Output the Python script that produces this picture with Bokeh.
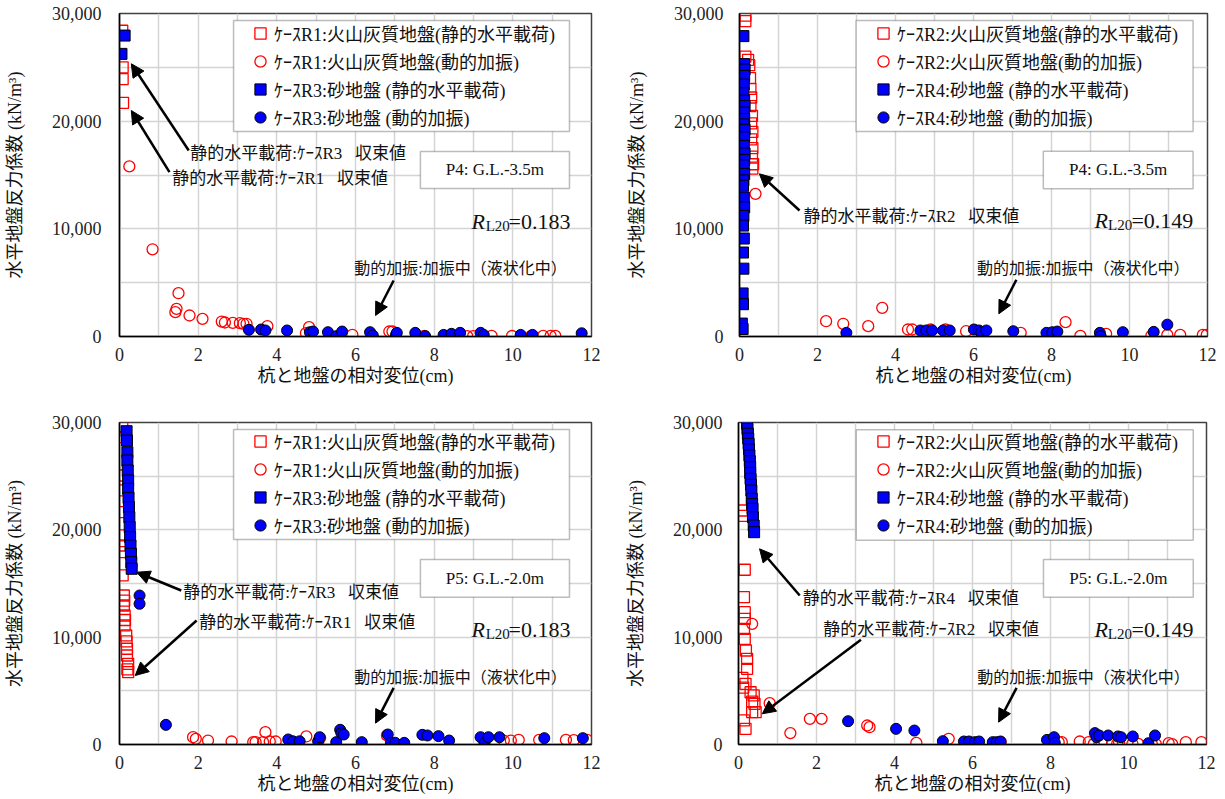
from bokeh.plotting import figure
from bokeh.models import (Range1d, SingleIntervalTicker, NumeralTickFormatter, Legend, LegendItem,
                          BoxAnnotation, Label, Arrow, NormalHead)
from bokeh.layouts import column, row
from bokeh.embed import file_html
from bokeh.resources import INLINE

# ---------------- data ----------------
# Panel A: P4 G.L.-3.5m, R1 (volcanic ash) / R3 (sand)
a_r1s_x = [0.07, 0.08, 0.08, 0.09]
a_r1s_y = [28400, 25000, 23900, 21700]
a_r1d_x = [0.25, 0.84, 1.42, 1.45, 1.50, 1.78, 2.11, 2.60, 2.68, 2.88, 3.06, 3.15, 3.23, 3.76, 4.74, 4.82,
           5.92, 6.86, 6.94, 7.75, 8.84, 8.99, 9.46, 9.98, 10.47, 10.77, 10.96, 11.08]
a_r1d_y = [15800, 8100, 2260, 2570, 4020, 1950, 1640, 1390, 1300, 1270, 1240, 1180, 1180, 960, 310, 865,
           160, 465, 465, 50, 30, 30, 50, 50, 50, 50, 50, 50]
a_r3s_x = [0.13, 0.05]
a_r3s_y = [27950, 26250]
a_r3d_x = [3.29, 3.60, 3.71, 4.26, 4.84, 4.92, 5.30, 5.51, 5.66, 6.37, 6.44, 7.03, 7.05, 7.52, 7.77, 8.24,
           8.44, 8.66, 9.18, 9.26, 10.20, 10.50, 11.75]
a_r3d_y = [620, 650, 560, 560, 400, 460, 400, 30, 460, 400, 100, 150, 340, 340, 30, 150,
           250, 340, 340, 150, 150, 150, 300]

# Panel B: P4 G.L.-3.5m, R2 (volcanic ash) / R4 (sand)
b_r2s_x = [0.15, 0.15, 0.15, 0.22, 0.25, 0.27, 0.28, 0.30, 0.28, 0.32, 0.30, 0.33, 0.30, 0.33, 0.32, 0.35, 0.33]
b_r2s_y = [29800, 29300, 26000, 25700, 25200, 24000, 23000, 22200, 21400, 20500, 19800, 19000, 18300,
           17500, 16700, 16000, 15600]
b_r2d_x = [0.41, 2.22, 2.66, 3.30, 3.66, 4.32, 4.43, 4.90, 5.28, 5.81, 6.22, 7.21, 8.36, 8.74, 9.40,
           10.56, 10.97, 11.30, 11.88, 11.98]
b_r2d_y = [13250, 1420, 1180, 960, 2660, 650, 650, 650, 650, 490, 250, 340, 1330, 60, 250,
           50, 150, 150, 150, 150]
b_r4s_x = [0.10, 0.12, 0.13, 0.12, 0.11, 0.10, 0.12, 0.13, 0.11, 0.12, 0.10, 0.13, 0.12, 0.11, 0.13, 0.12,
           0.11, 0.12, 0.10, 0.09, 0.11, 0.12, 0.10, 0.09, 0.11, 0.09, 0.10, 0.08, 0.09, 0.06, 0.08]
b_r4s_y = [27900, 25300, 24800, 24200, 23400, 22600, 21900, 21400, 20800, 20200, 19700, 19200, 18500,
           17700, 17000, 16400, 15900, 15100, 14500, 14000, 12900, 12000, 11200, 10300, 9100, 7800, 6300,
           4000, 3000, 1200, 700]
b_r4d_x = [2.74, 4.64, 4.79, 4.94, 5.22, 5.39, 6.01, 6.14, 6.20, 6.33, 7.02, 7.87, 8.02, 8.15, 9.24, 9.26,
           9.83, 10.62, 10.97]
b_r4d_y = [340, 560, 560, 560, 560, 560, 650, 560, 400, 560, 490, 340, 400, 460, 340, 30,
           400, 430, 1100]

# Panel C: P5 G.L.-2.0m, R1 / R3
c_r1s_x = [0.07, 0.05, 0.04, 0.04, 0.05, 0.05, 0.05, 0.07, 0.08, 0.11, 0.12, 0.11, 0.13, 0.14, 0.13, 0.17,
           0.18, 0.19, 0.19, 0.22, 0.20, 0.22]
c_r1s_y = [29560, 28630, 25060, 23670, 21650, 19480, 18540, 17920, 15750, 13880, 13400, 12950, 12020,
           11600, 11090, 10160, 9600, 8920, 8290, 7520, 7000, 6740]
c_r1d_x = [1.87, 1.94, 2.25, 2.85, 3.40, 3.46, 3.65, 3.71, 3.82, 3.97, 4.75, 5.10, 6.80, 9.77, 9.95, 10.15,
           10.67, 11.35, 11.55, 11.89]
c_r1d_y = [680, 530, 370, 280, 220, 220, 220, 1150, 280, 280, 750, 600, 850, 370, 370, 430,
           430, 430, 400, 430]
c_r3s_x = [0.18, 0.19, 0.20, 0.20, 0.21, 0.22, 0.22, 0.23, 0.24, 0.25, 0.26, 0.27, 0.28, 0.29, 0.30, 0.31]
c_r3s_y = [29190, 28320, 27230, 26460, 25530, 24600, 23820, 22980, 22110, 21180, 20250, 19320, 18540,
           17770, 16990, 16370]
c_r3d_x = [0.51, 0.51, 1.18, 4.29, 4.41, 4.58, 5.05, 5.09, 5.51, 5.61, 5.64, 5.70, 6.16, 6.82, 6.90, 7.01,
           7.24, 7.70, 7.83, 8.11, 8.38, 9.18, 9.28, 9.38, 9.66, 10.80, 11.78]
c_r3d_y = [13880, 13110, 1830, 470, 300, 300, 300, 680, 220, 1370, 1060, 930, 220, 930, 155, 155,
           155, 900, 840, 780, 370, 680, 120, 680, 680, 590, 590]

# Panel D: P5 G.L.-2.0m, R2 / R4
d_r2s_x = [0.09, 0.10, 0.16, 0.14, 0.16, 0.16, 0.14, 0.16, 0.19, 0.22, 0.22, 0.10, 0.12, 0.18, 0.31, 0.39,
           0.35, 0.41, 0.44, 0.35, 0.14, 0.18]
d_r2s_y = [21800, 21300, 16280, 13730, 12330, 11700, 10780, 9850, 8760, 7980, 7050, 6200, 5300, 5650,
           4870, 4570, 4000, 3790, 3010, 3010, 2240, 1460]
d_r2d_x = [0.35, 0.80, 1.33, 1.83, 2.13, 3.30, 3.36, 4.56, 5.39, 6.72, 8.21, 8.29, 8.75, 8.98, 9.11, 9.31,
           9.58, 9.71, 9.76, 10.10, 10.25, 10.60, 10.70, 11.03, 11.12, 11.47, 11.87]
d_r2d_y = [11240, 3850, 1060, 2390, 2390, 1770, 1610, 155, 530, 220, 220, 220, 280, 220, 60, 120,
           120, 60, 220, 60, 60, 30, 30, 120, 30, 220, 220]
d_r4s_x = [0.22, 0.23, 0.24, 0.25, 0.26, 0.27, 0.28, 0.29, 0.30, 0.30, 0.31, 0.32, 0.33, 0.34, 0.35, 0.36,
           0.37, 0.39, 0.40]
d_r4s_y = [29880, 29400, 28950, 28500, 28010, 27500, 26930, 26400, 25840, 25300, 24750, 24200, 23660,
           22890, 22400, 21960, 21180, 20400, 19780]
d_r4d_x = [2.81, 4.04, 4.51, 5.24, 5.78, 5.91, 6.06, 6.17, 6.52, 6.62, 6.72, 7.91, 8.09, 8.11, 9.14, 9.18,
           9.25, 9.48, 9.73, 9.81, 10.11, 10.51, 10.68]
d_r4d_y = [2170, 1460, 1300, 310, 280, 280, 220, 280, 220, 220, 280, 430, 680, 160, 1060, 680,
           840, 840, 750, 680, 750, 120, 840]

x_ticks = [0, 2, 4, 6, 8, 10, 12]
y_ticks = [0, 10000, 20000, 30000]

FONT = "Liberation Serif, Noto Sans CJK JP"
X_LABEL = "杭と地盤の相対変位(cm)"
Y_LABEL = "水平地盤反力係数 (kN/m³)"
DYN_TEXT = "動的加振:加振中（液状化中）"
GAP = "\u2002 "


def make_panel(cfg):
    p = figure(width=cfg["w"], height=cfg["h"], x_range=Range1d(0, 12), y_range=Range1d(0, 30000),
               output_backend="svg", toolbar_location=None,
               min_border_left=cfg["bl"], min_border_right=cfg["br"],
               min_border_top=cfg["bt"], min_border_bottom=cfg["bb"])
    p.background_fill_color = "white"
    p.border_fill_color = "white"
    p.outline_line_color = "#404040"
    p.outline_line_width = 1.5

    p.xaxis.ticker = x_ticks
    p.yaxis.ticker = y_ticks
    p.yaxis.formatter = NumeralTickFormatter(format="0,0")
    p.xgrid.ticker = SingleIntervalTicker(interval=1)
    p.ygrid.ticker = SingleIntervalTicker(interval=5000)
    for g in (p.xgrid, p.ygrid):
        g.grid_line_color = "#d4d4d4"
        g.grid_line_width = 1.5
    for ax in (p.xaxis[0], p.yaxis[0]):
        ax.major_tick_out = 0
        ax.major_tick_in = 0
        ax.minor_tick_out = 0
        ax.minor_tick_in = 0
        ax.axis_line_color = "black"
        ax.axis_line_width = 1.5
        ax.major_label_text_font = "Liberation Serif"
        ax.major_label_text_font_size = "18px"
        ax.major_label_text_color = "#222222"
        ax.axis_label_text_font = FONT
        ax.axis_label_text_font_size = "18px"
        ax.axis_label_text_font_style = "normal"
        ax.axis_label_text_color = "#111111"
    p.xaxis.axis_label = X_LABEL
    p.yaxis.axis_label = Y_LABEL
    p.xaxis.major_label_standoff = 11
    p.yaxis.major_label_standoff = cfg["ystand"]
    p.xaxis.axis_label_standoff = 2
    p.yaxis.axis_label_standoff = 24

    # series
    r1 = p.scatter(cfg["ss_x"], cfg["ss_y"], marker="square", size=11, fill_color=None,
                   line_color="#ff0000", line_width=1.3)
    r2 = p.scatter(cfg["sd_x"], cfg["sd_y"], marker="circle", size=11, fill_color=None,
                   line_color="#ff0000", line_width=1.3)
    r3 = p.scatter(cfg["bs_x"], cfg["bs_y"], marker="square", size=11, fill_color="#0000ff",
                   line_color="black", line_width=1)
    r4 = p.scatter(cfg["bd_x"], cfg["bd_y"], marker="circle", size=11, fill_color="#0000ff",
                   line_color="black", line_width=1)

    # legend frame
    lb = cfg["legbox"]
    p.add_layout(BoxAnnotation(left=lb[0], right=lb[1], top=lb[2], bottom=lb[3], fill_color="white",
                               fill_alpha=1, line_color="#222222", line_width=1.5))
    items = [LegendItem(label=lab, renderers=[r]) for lab, r in zip(cfg["labels"], [r1, r2, r3, r4])]
    leg = Legend(items=items, location=cfg["legloc"], orientation="vertical",
                 glyph_width=28, glyph_height=28, label_height=28, spacing=0, padding=0, margin=0,
                 label_standoff=0, border_line_alpha=0, background_fill_alpha=0,
                 label_text_font=FONT, label_text_font_size="18px", label_text_color="#111111")
    p.add_layout(leg, "center")

    # info box
    ib = cfg["infobox"]
    p.add_layout(BoxAnnotation(left=ib[0], right=ib[1], top=ib[2], bottom=ib[3], fill_color="white",
                               fill_alpha=1, line_color="#222222", line_width=1.5))
    p.add_layout(Label(x=(ib[0] + ib[1]) / 2, y=(ib[2] + ib[3]) / 2, text=cfg["info"],
                       text_font="Liberation Serif", text_font_size="17px", text_align="center",
                       text_baseline="middle", text_color="#111111"))

    # R_L20 label
    rx, ry = cfg["rpos"]
    p.add_layout(Label(x=rx[0], y=ry, text="R", text_font="Liberation Serif", text_font_style="italic",
                       text_font_size="22px", text_baseline="alphabetic", text_color="#111111"))
    p.add_layout(Label(x=rx[1], y=ry, y_offset=-4, text="L20", text_font="Liberation Serif",
                       text_font_size="15px", text_baseline="alphabetic", text_color="#111111"))
    p.add_layout(Label(x=rx[2], y=ry, text=cfg["rval"], text_font="Liberation Serif",
                       text_font_size="22px", text_baseline="alphabetic", text_color="#111111"))

    # arrows and notes
    for (x0, y0, x1, y1) in cfg["arrows"]:
        p.add_layout(Arrow(end=NormalHead(size=13, fill_color="black", line_color="black", line_width=1),
                           x_start=x0, y_start=y0, x_end=x1, y_end=y1, line_width=2.5,
                           line_color="black"))
    for (txt, x, y, fs) in cfg["notes"]:
        p.add_layout(Label(x=x, y=y, text=txt, text_font=FONT, text_font_size=fs,
                           text_baseline="middle", text_align="left", text_color="#111111"))
    return p


labels_13 = ["ｹｰｽR1:火山灰質地盤(静的水平載荷)", "ｹｰｽR1:火山灰質地盤(動的加振)",
             "ｹｰｽR3:砂地盤 (静的水平載荷)", "ｹｰｽR3:砂地盤 (動的加振)"]
labels_24 = ["ｹｰｽR2:火山灰質地盤(静的水平載荷)", "ｹｰｽR2:火山灰質地盤(動的加振)",
             "ｹｰｽR4:砂地盤 (静的水平載荷)", "ｹｰｽR4:砂地盤 (動的加振)"]

cfgA = dict(w=612, h=400, bl=119, br=21, bt=13, bb=64, ystand=18,
            ss_x=a_r1s_x, ss_y=a_r1s_y, sd_x=a_r1d_x, sd_y=a_r1d_y,
            bs_x=a_r3s_x, bs_y=a_r3s_y, bd_x=a_r3d_x, bd_y=a_r3d_y, labels=labels_13,
            legbox=(2.90, 11.44, 29350, 19040), legloc=(127, 205),
            infobox=(7.65, 11.44, 17180, 13750), info="P4: G.L.-3.5m",
            rpos=((8.95, 9.31, 9.89), 10680), rval="=0.183",
            arrows=[(1.76, 17280, 0.30, 25330), (1.27, 15260, 0.30, 20990), (6.97, 5200, 6.51, 1950)],
            notes=[("静的水平載荷:ｹｰｽR3" + GAP + "収束値", 1.80, 17000, "17px"),
                   ("静的水平載荷:ｹｰｽR1" + GAP + "収束値", 1.34, 14675, "17px"),
                   (DYN_TEXT, 5.97, 6320, "16px")])

cfgB = dict(w=613, h=400, bl=127, br=18, bt=13, bb=64, ystand=16,
            ss_x=b_r2s_x, ss_y=b_r2s_y, sd_x=b_r2d_x, sd_y=b_r2d_y,
            bs_x=b_r4s_x, bs_y=b_r4s_y, bd_x=b_r4d_x, bd_y=b_r4d_y, labels=labels_24,
            legbox=(2.99, 11.63, 29350, 19040), legloc=(130, 205),
            infobox=(7.79, 11.63, 17210, 13720), info="P4: G.L.-3.5m",
            rpos=((9.10, 9.45, 10.05), 10770), rval="=0.149",
            arrows=[(1.54, 11700, 0.51, 15110), (7.10, 5270, 6.65, 2110)],
            notes=[("静的水平載荷:ｹｰｽR2" + GAP + "収束値", 1.64, 11150, "17px"),
                   (DYN_TEXT, 6.09, 6290, "16px")])

cfgC = dict(w=612, h=399, bl=119, br=21, bt=22, bb=55, ystand=18,
            ss_x=c_r1s_x, ss_y=c_r1s_y, sd_x=c_r1d_x, sd_y=c_r1d_y,
            bs_x=c_r3s_x, bs_y=c_r3s_y, bd_x=c_r3d_x, bd_y=c_r3d_y, labels=labels_13,
            legbox=(2.90, 11.44, 29350, 19100), legloc=(127, 205),
            infobox=(7.65, 11.44, 17240, 13720), info="P5: G.L.-2.0m",
            rpos=((8.95, 9.31, 9.89), 10690), rval="=0.183",
            arrows=[(1.57, 14350, 0.44, 16050), (1.96, 11550, 0.40, 6430), (6.97, 5280, 6.51, 1990)],
            notes=[("静的水平載荷:ｹｰｽR3" + GAP + "収束値", 1.62, 14190, "17px"),
                   ("静的水平載荷:ｹｰｽR1" + GAP + "収束値", 2.03, 11400, "17px"),
                   (DYN_TEXT, 5.97, 6270, "16px")])

cfgD = dict(w=613, h=399, bl=126, br=19, bt=22, bb=55, ystand=16,
            ss_x=d_r2s_x, ss_y=d_r2s_y, sd_x=d_r2d_x, sd_y=d_r2d_y,
            bs_x=d_r4s_x, bs_y=d_r4s_y, bd_x=d_r4d_x, bd_y=d_r4d_y, labels=labels_24,
            legbox=(3.02, 11.66, 29320, 19040), legloc=(131, 205),
            infobox=(7.82, 11.66, 17240, 13720), info="P5: G.L.-2.0m",
            rpos=((9.13, 9.47, 10.08), 10690), rval="=0.149",
            arrows=[(1.57, 13880, 0.54, 18230), (3.14, 9750, 0.61, 2860), (7.13, 5280, 6.67, 2080)],
            notes=[("静的水平載荷:ｹｰｽR4" + GAP + "収束値", 1.65, 13570, "17px"),
                   ("静的水平載荷:ｹｰｽR2" + GAP + "収束値", 2.17, 10690, "17px"),
                   (DYN_TEXT, 6.12, 6270, "16px")])

pA = make_panel(cfgA)
pB = make_panel(cfgB)
pC = make_panel(cfgC)
pD = make_panel(cfgD)

layout = column(row(pA, pB), row(pC, pD))
open("out.html", "w").write(file_html(layout, INLINE))
